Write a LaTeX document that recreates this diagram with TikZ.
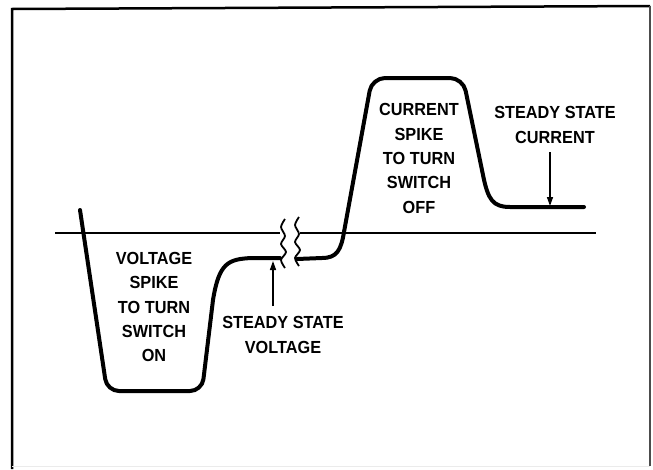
\documentclass[tikz,border=0pt]{standalone}
\usepackage{fontspec}
\newfontfamily\lbl[FakeStretch=0.93]{Liberation Sans}
\usetikzlibrary{arrows.meta}
\begin{document}
\begin{tikzpicture}[x=1pt,y=-1pt,
  wave/.style={line width=4pt,line join=round,line cap=round},
  axisline/.style={line width=2pt},
  squig/.style={line width=1.8pt},
  lbltext/.style={font=\lbl\bfseries\fontsize{17.5}{24.4}\selectfont,align=center,inner sep=0pt},
  pointer/.style={line width=1.4pt,-{Triangle[length=9pt,width=6pt]}}]
\useasboundingbox (0,0) rectangle (653,469);
% frame
\draw[line width=2.5pt] (12,469) -- (12,9) -- (650,6);
\draw[line width=1.5pt,black!70] (650,6) -- (650,466);
\draw[line width=1pt,black!8] (12,466) -- (650,466);
% axis
\draw[axisline] (55,233) -- (280,233);
\draw[axisline] (300,233) -- (596,233);
% waveform
\draw[wave,rounded corners=12pt] (80,210) -- (107,391) -- (202,391) -- (213,300);
\draw[wave] (213,300) .. controls (219,263) and (228,259) .. (252,258) -- (280,258);
\draw[wave] (297,259) -- (322,258) .. controls (337,258) and (341,250) .. (344,232);
\draw[wave,rounded corners=13pt] (344,232) -- (372,78) -- (463,78) -- (483,175);
\draw[wave] (483,175) .. controls (488,200) and (493,207) .. (510,207) -- (584,207);
% break marks
\draw[squig] plot[smooth] coordinates {(285,219) (281,227) (285,236) (281,244) (286,252) (281,260) (285,268)};
\draw[squig] plot[smooth] coordinates {(299,217) (295,225) (299,234) (295,242) (300,250) (295,258) (299,266)};
% labels
\node[lbltext] (von) at (154,307) {VOLTAGE\\SPIKE\\TO TURN\\SWITCH\\ON};
\node[lbltext] (coff) at (419,158.5) {CURRENT\\SPIKE\\TO TURN\\SWITCH\\OFF};
\node[lbltext] (ssv) at (283,335) {STEADY STATE\\VOLTAGE};
\node[lbltext] (ssc) at (555,125) {STEADY STATE\\CURRENT};
% pointers
\coordinate (vtail) at (273,306);
\coordinate (vtip) at (273,261);
\coordinate (ctail) at (550,152);
\coordinate (ctip) at (550,206);
\draw[pointer] (vtail) -- (vtip);
\draw[pointer] (ctail) -- (ctip);
\end{tikzpicture}
\end{document}
